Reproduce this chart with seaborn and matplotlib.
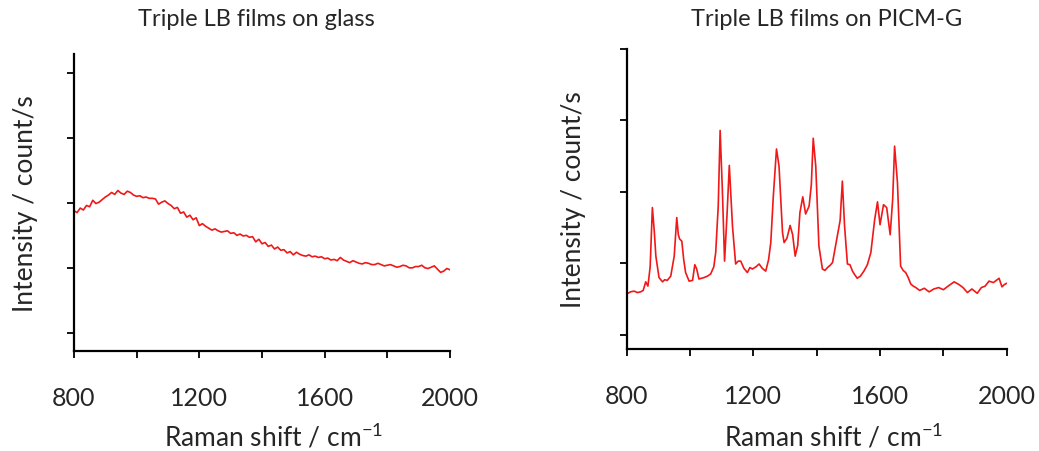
import numpy as np
import pandas as pd
import seaborn as sns
import matplotlib.pyplot as plt

# Spectrum on glass (arbitrary intensity units)
glass_shift = list(range(800, 2001, 10))
glass_int = [2.88, 2.85, 2.92, 2.89, 2.96, 2.94, 3.04, 2.99, 3.01, 3.05,
             3.09, 3.12, 3.16, 3.13, 3.19, 3.15, 3.13, 3.18, 3.16, 3.12,
             3.10, 3.11, 3.08, 3.09, 3.07, 3.07, 3.06, 2.98, 3.01, 3.03,
             2.99, 2.96, 2.91, 2.93, 2.84, 2.86, 2.78, 2.81, 2.74, 2.77,
             2.65, 2.68, 2.64, 2.61, 2.58, 2.60, 2.57, 2.55, 2.56, 2.57,
             2.53, 2.54, 2.50, 2.52, 2.49, 2.50, 2.47, 2.48, 2.40, 2.44,
             2.37, 2.39, 2.33, 2.35, 2.29, 2.32, 2.27, 2.28, 2.23, 2.25,
             2.20, 2.24, 2.21, 2.19, 2.18, 2.20, 2.17, 2.18, 2.16, 2.17,
             2.14, 2.15, 2.12, 2.13, 2.11, 2.16, 2.12, 2.10, 2.08, 2.11,
             2.09, 2.07, 2.06, 2.08, 2.07, 2.05, 2.05, 2.07, 2.05, 2.03,
             2.04, 2.05, 2.03, 2.01, 2.02, 2.04, 2.03, 2.00, 2.00, 2.02,
             2.02, 2.04, 2.00, 1.99, 2.01, 2.03, 1.98, 1.93, 1.95, 1.99,
             1.97]

# Spectrum on PICM-G
picm_shift = [800, 812, 823, 834, 844, 852, 860, 867, 874, 881, 887, 892, 902,
              913, 920, 928, 939, 950, 958, 963, 967, 974, 980, 986, 997,
              1008, 1015, 1021, 1028, 1036, 1044, 1055, 1065, 1075, 1081, 1089,
              1095, 1102, 1109, 1117, 1124, 1134, 1144, 1152, 1160, 1170, 1181,
              1189, 1197, 1208, 1218, 1228, 1239, 1248, 1255, 1263, 1273, 1281,
              1292, 1297, 1306, 1316, 1324, 1332, 1340, 1347, 1356, 1365, 1376,
              1383, 1389, 1397, 1407, 1418, 1426, 1434, 1442, 1450, 1465, 1474,
              1481, 1488, 1497, 1505, 1513, 1520, 1528, 1538, 1549, 1560, 1571,
              1583, 1592, 1600, 1611, 1621, 1632, 1640, 1646, 1655, 1665, 1673,
              1681, 1689, 1697, 1705, 1713, 1725, 1740, 1755, 1770, 1785, 1800,
              1815, 1834, 1850, 1862, 1876, 1890, 1907, 1920, 1932, 1944, 1958,
              1976, 1985, 1992, 2000]
picm_int = [1.57, 1.60, 1.61, 1.59, 1.60, 1.62, 1.74, 1.68, 1.95, 2.78, 2.45,
            2.10, 1.80, 1.74, 1.77, 1.76, 1.82, 2.10, 2.64, 2.40, 2.34, 2.31,
            2.05, 1.87, 1.75, 1.76, 1.98, 1.92, 1.78, 1.79, 1.80, 1.82, 1.85,
            1.95, 2.15, 2.80, 3.86, 3.03, 2.03, 2.70, 3.37, 2.52, 1.99, 2.03,
            2.03, 1.93, 1.87, 1.94, 1.92, 1.95, 1.99, 1.93, 1.89, 2.05, 2.29,
            2.94, 3.60, 3.36, 2.43, 2.29, 2.35, 2.53, 2.40, 2.10, 2.25, 2.71,
            2.93, 2.69, 2.80, 3.10, 3.75, 3.36, 2.24, 1.92, 1.90, 1.94, 1.97,
            2.01, 2.38, 2.60, 3.15, 2.52, 1.99, 1.98, 1.89, 1.84, 1.79, 1.82,
            1.89, 1.98, 2.15, 2.61, 2.86, 2.54, 2.82, 2.78, 2.40, 2.90, 3.64,
            3.13, 1.96, 1.90, 1.87, 1.80, 1.71, 1.68, 1.66, 1.62, 1.65, 1.60,
            1.64, 1.66, 1.63, 1.68, 1.74, 1.70, 1.66, 1.59, 1.64, 1.58, 1.66,
            1.68, 1.75, 1.73, 1.79, 1.67, 1.70, 1.72]

glass = pd.DataFrame({'shift': glass_shift, 'intensity': glass_int})
picm = pd.DataFrame({'shift': picm_shift, 'intensity': picm_int})

sns.set_style('ticks')
plt.rcParams['font.family'] = ['Lato', 'DejaVu Sans']
plt.rcParams['mathtext.fontset'] = 'custom'
plt.rcParams['mathtext.rm'] = 'Lato'

fig = plt.figure(figsize=(10.39, 4.52), dpi=100)
ax1 = fig.add_axes([0.0712, 0.2212, 0.3619, 0.657])
ax2 = fig.add_axes([0.6032, 0.2257, 0.3657, 0.6637])

red = '#f01818'
sns.lineplot(data=glass, x='shift', y='intensity', ax=ax1, color=red, linewidth=1.2)
sns.lineplot(data=picm, x='shift', y='intensity', ax=ax2, color=red, linewidth=1.2)

panels = [(ax1, 'Triple LB films on glass', (0.72, 5.29), -0.13, 0.53, -0.286, 256),
          (ax2, 'Triple LB films on PICM-G', (0.8, 5.0), -0.141, 0.545, -0.29, 827)]
for ax, title, ylim, ylx, xlx, xly, tx in panels:
    ax.set_xlim(800, 2000)
    ax.set_ylim(*ylim)
    ax.set_yticks([1, 2, 3, 4, 5])
    ax.set_yticklabels([])
    ax.set_xticks(range(800, 2001, 200))
    ax.set_xticklabels(['800', '', '1200', '', '1600', '', '2000'])
    ax.tick_params(axis='both', direction='out', length=5, width=1.3, color='black')
    ax.tick_params(axis='x', labelsize=18, pad=20)
    for s in ['top', 'right']:
        ax.spines[s].set_visible(False)
    for s in ['left', 'bottom']:
        ax.spines[s].set_linewidth(1.6)
        ax.spines[s].set_color('black')
    ax.set_xlabel(r'Raman shift / cm$^{\mathregular{-1}}$', fontsize=19)
    ax.set_ylabel('Intensity / count/s', fontsize=19)
    ax.xaxis.set_label_coords(xlx, xly)
    ax.xaxis.label.set_verticalalignment('center')
    ax.yaxis.set_label_coords(ylx, 0.5)
    ax.yaxis.label.set_verticalalignment('center')
    fig.text(tx / 1039, 1 - 20 / 452, title, fontsize=17, ha='center', va='center')

fig.savefig('out.png', dpi=100)
